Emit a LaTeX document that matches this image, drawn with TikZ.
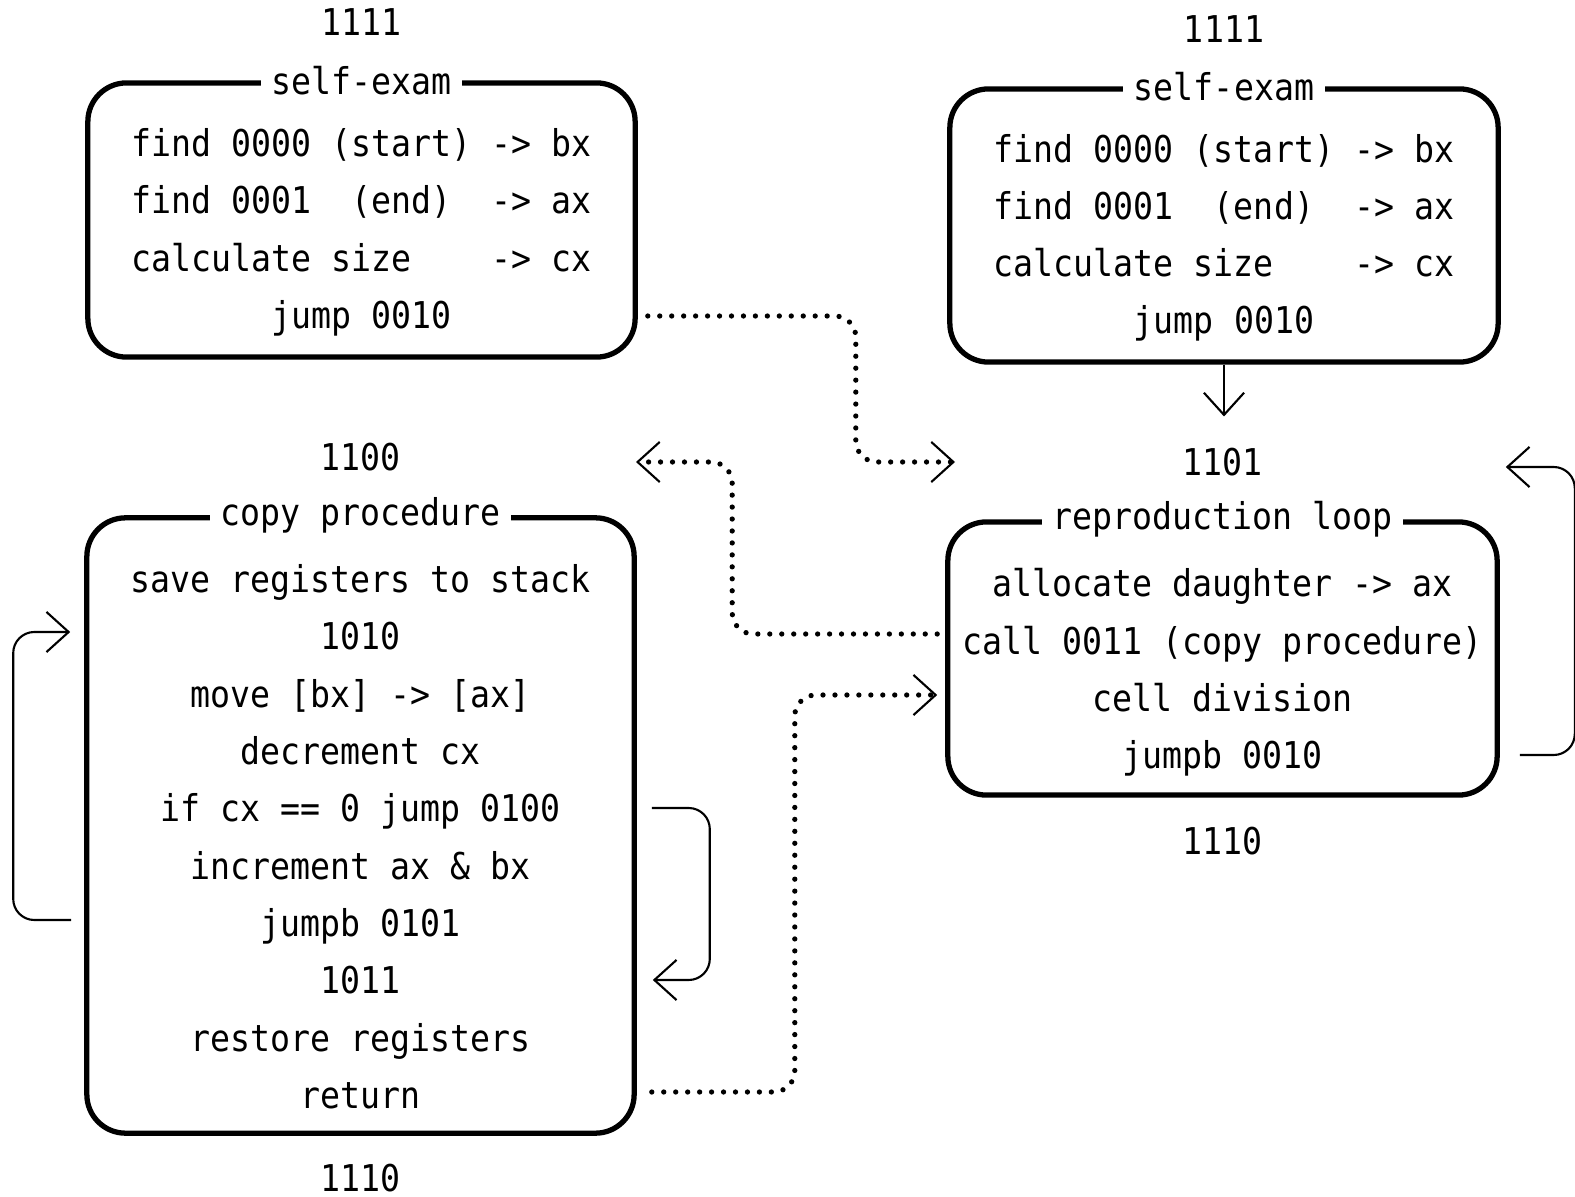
\documentclass[tikz,border=0pt]{standalone}
\usepackage{fontspec}
\newfontfamily\plotfont[FakeStretch=0.9]{DejaVu Sans Mono}
\usetikzlibrary{arrows.meta,positioning}

\tikzset{
  x=0.01cm, y=-0.01cm,
  codebox/.style={draw, line width=1.5pt, rounded corners=11pt, inner sep=0pt},
  codetext/.style={align=center, inner sep=0pt, font=\plotfont\fontsize{10.5}{16.3}\selectfont},
  boxtitle/.style={fill=white, inner xsep=3pt, inner ysep=1pt, font=\plotfont\fontsize{10.5}{12}\selectfont},
  addr/.style={font=\plotfont\fontsize{10.5}{12}\selectfont},
  barb/.tip={Straight Barb[length=6.3pt, width=11.4pt, line width=0.6pt]},
  flow/.style={line width=0.6pt, -barb},
  loopback/.style={line width=0.6pt, rounded corners=6pt, -barb},
  dots/.style={line width=1.5pt, line cap=round, dash pattern=on 0pt off 3.4pt, rounded corners=6pt, -barb}
}

\begin{document}
\begin{tikzpicture}
\useasboundingbox (0,0) rectangle (1575,1197);

% the four code blocks
\node[codebox, minimum width=5.47cm, minimum height=2.74cm] (exam1) at (361.5,220) {};
\node[codebox, minimum width=5.48cm, minimum height=2.73cm] (exam2) at (1224,225.5) {};
\node[codebox, minimum width=5.47cm, minimum height=6.15cm] (copy) at (360.5,825.5) {};
\node[codebox, minimum width=5.49cm, minimum height=2.73cm] (rep) at (1222.5,658.5) {};

\node[codetext] (exam1txt) at ([yshift=-3.5pt]exam1.center)
  {find 0000 (start) -> bx\\find 0001~~(end)~~-> ax\\calculate size~~~~-> cx\\jump 0010};
\node[codetext] (exam2txt) at ([yshift=-3.5pt]exam2.center)
  {find 0000 (start) -> bx\\find 0001~~(end)~~-> ax\\calculate size~~~~-> cx\\jump 0010};
\node[codetext] (copytxt) at ([yshift=-3.2pt]copy.center)
  {save registers to stack\\1010\\move [bx] -> [ax]\\decrement cx\\if cx == 0 jump 0100\\increment ax \& bx\\jumpb 0101\\1011\\restore registers\\return};
\node[codetext] (reptxt) at ([yshift=-4pt]rep.center)
  {allocate daughter -> ax\\call 0011 (copy procedure)\\cell division\\jumpb 0010};

% titles on the top borders
\node[boxtitle] (exam1ttl) at (exam1.north) {self-exam};
\node[boxtitle] (exam2ttl) at (exam2.north) {self-exam};
\node[boxtitle] (copyttl) at (copy.north) {copy procedure};
\node[boxtitle] (repttl) at (rep.north) {reproduction loop};

% template addresses
\node[addr, above=0.32cm of exam1] (lbl1111a) {1111};
\node[addr, above=0.31cm of exam2] (lbl1111b) {1111};
\node[addr, above=0.32cm of copy] (lbl1100) {1100};
\node[addr, above=0.31cm of rep] (lbl1101) {1101};
\node[addr, below=0.17cm of rep] (lbl1110a) {1110};
\node[addr, below=0.16cm of copy] (lbl1110b) {1110};

% free ends of the dotted jumps
\coordinate (tipA) at (955,462);
\coordinate (tipB) at (636,462);

\draw[flow, shorten >=0.19cm] (exam2.south) -- (exam2.south |- lbl1101.north);

\draw[dots] ([shift={(10,96)}]exam1.east) -- ++(208,0) |- (tipA);
\draw[dots] ([shift={(-8,-24.5)}]rep.west) -- ++(-205,0) |- (tipB);
\draw[dots] ([shift={(15,266.5)}]copy.east) -- ++(143,0) |- ([shift={(-8,36.5)}]rep.west);

\draw[loopback] ([shift={(15,-17.5)}]copy.east) -- ++(58,0) |- ([shift={(16,154.5)}]copy.east);
\draw[loopback] ([shift={(-13,94.5)}]copy.west) -- ++(-58,0) |- ([shift={(-14,-193.5)}]copy.west);
\draw[loopback] ([shift={(20,96.5)}]rep.east) -- ++(55,0) |- ([shift={(6,-191.5)}]rep.east);
\end{tikzpicture}
\end{document}
